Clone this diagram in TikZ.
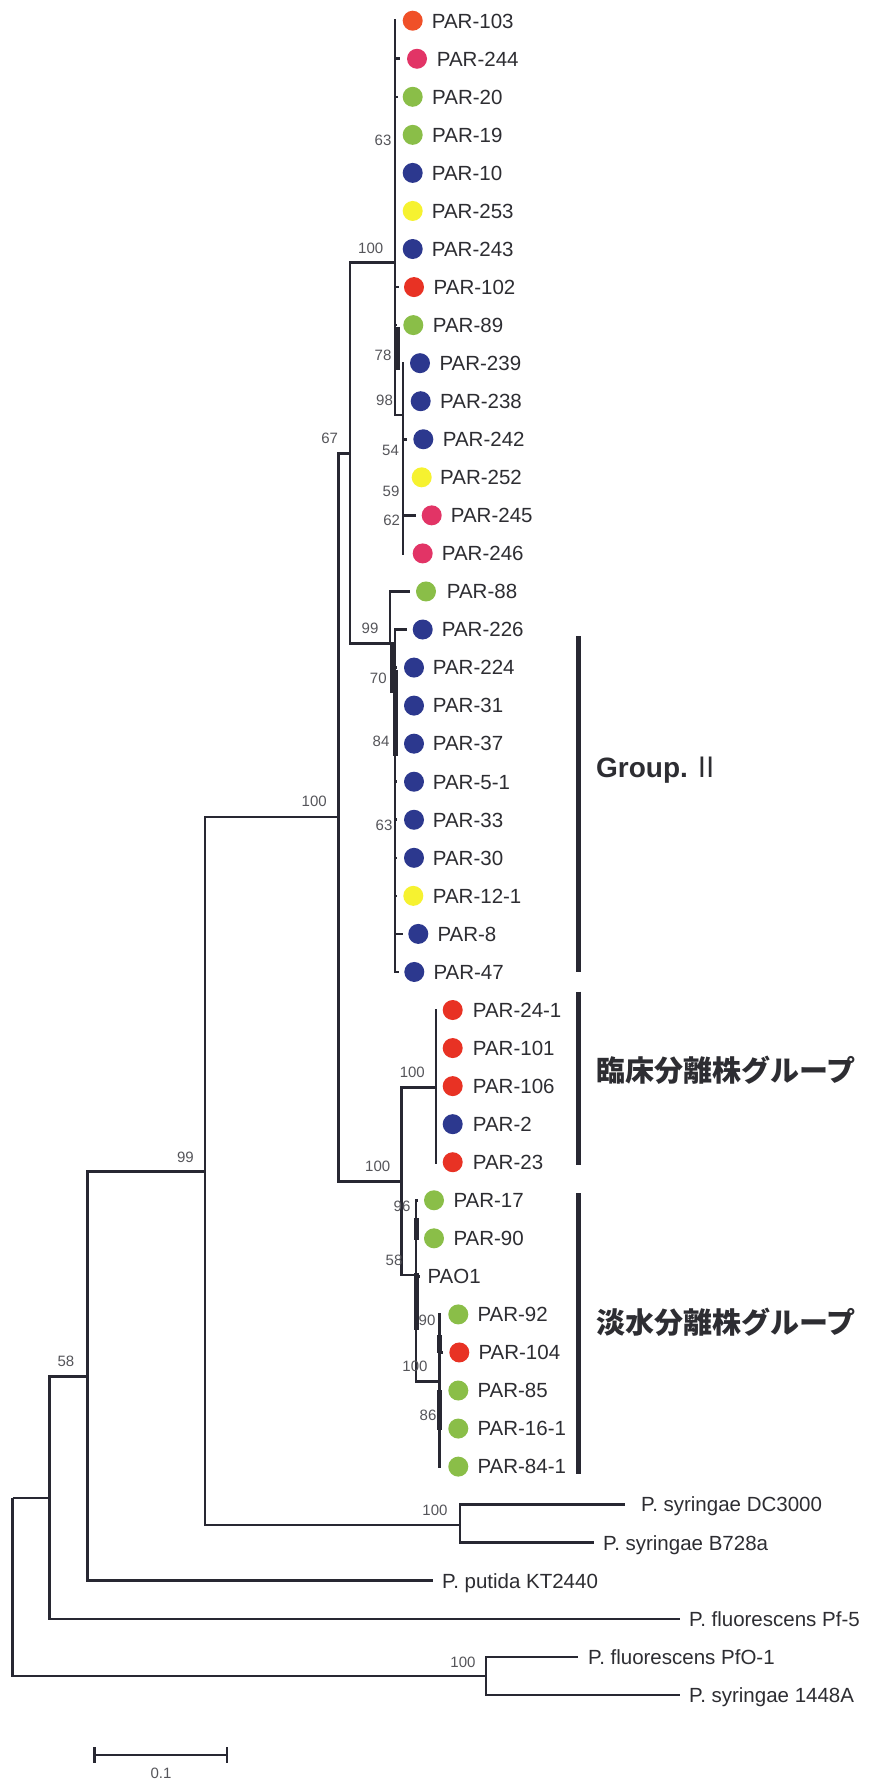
\documentclass[tikz,border=0pt]{standalone}
\usepackage{fontspec}
\setmainfont{Liberation Sans}
\newfontfamily\cjk{Noto Sans CJK JP}
\definecolor{linec}{RGB}{40,40,50}
\definecolor{txtc}{RGB}{45,45,50}
\definecolor{bsc}{RGB}{85,85,90}
\definecolor{cred}{RGB}{232,50,36}
\definecolor{corg}{RGB}{240,80,40}
\definecolor{cpink}{RGB}{226,52,102}
\definecolor{cgreen}{RGB}{138,190,72}
\definecolor{cblue}{RGB}{44,56,142}
\definecolor{cyel}{RGB}{246,242,48}
\newcommand\tleaf[8]{%
  \coordinate (t#1) at (#3,#4);
  \draw[br] (#2) |- (t#1);
  \node[dotn=#6] (d#1) at (#5,#4) {};
  \node[lbl] (l#1) at (#7,#4+7.3) {#8};
}
\newcommand\oleaf[6]{%
  \coordinate (t#1) at (#3,#4);
  \draw[br] (#2) |- (t#1);
  \node[lbl] (l#1) at (#5,#4+7.3) {#6};
}
\begin{document}
\begin{tikzpicture}[x=1pt,y=-1pt,
  br/.style={draw=linec,line width=2.6pt},
  thk/.style={draw=linec,line width=5pt},
  bkt/.style={draw=linec,line width=4.5pt},
  lbl/.style={anchor=base west,inner sep=0pt,text=txtc,font=\fontsize{20.5}{24}\selectfont},
  bs/.style={inner sep=0pt,text=bsc,font=\fontsize{15}{18}\selectfont},
  dotn/.style={circle,inner sep=0pt,minimum size=20pt,fill=#1},
  grp/.style={anchor=base west,inner sep=0pt,text=txtc}
]
\fill[white] (0,0) rectangle (872,1781);
\useasboundingbox (0,0) rectangle (872,1781);

% internal nodes
\coordinate (root) at (12.7,1498);
\coordinate (n58) at (49.3,1498);
\coordinate (npfo) at (486,1676);
\coordinate (n99) at (87.3,1376.7);
\coordinate (nA) at (205,1171.7);
\coordinate (nsyr) at (460,1525);
\coordinate (nB) at (338.5,817);
\coordinate (n67) at (350,453.3);
\coordinate (ntop) at (395,262.7);
\coordinate (n98) at (403,415);
\coordinate (n99b) at (390,643.3);
\coordinate (nG) at (395,643.3);
\coordinate (nC) at (401.7,1181.5);
\coordinate (nclin) at (436,1087.3);
\coordinate (n58b) at (416,1275);
\coordinate (nfc) at (439.3,1381.7);

\draw[br] (root) |- (n58);
\draw[br] (root) |- (npfo);
\draw[br] (n58) |- (n99);
\draw[br] (n99) |- (nA);
\draw[br] (nA) |- (nB);
\draw[br] (nA) |- (nsyr);
\draw[br] (nB) |- (n67);
\draw[br] (nB) |- (nC);
\draw[br] (n67) |- (ntop);
\draw[br] (n67) |- (n99b);
\draw[br] (ntop) |- (n98);
\draw[br] (n99b) |- (nG);
\draw[br] (nC) |- (nclin);
\draw[br] (nC) |- (n58b);
\draw[br] (n58b) |- (nfc);

% leaves
\tleaf{0}{ntop}{396}{20.7}{412.7}{corg}{431.7}{PAR-103}
\tleaf{1}{ntop}{400}{58.75}{417}{cpink}{436.7}{PAR-244}
\tleaf{2}{ntop}{398}{96.8}{412.7}{cgreen}{432}{PAR-20}
\tleaf{3}{ntop}{396}{134.85}{412.7}{cgreen}{432}{PAR-19}
\tleaf{4}{ntop}{396}{172.9}{412.7}{cblue}{431.7}{PAR-10}
\tleaf{5}{ntop}{396}{210.95}{412.7}{cyel}{431.7}{PAR-253}
\tleaf{6}{ntop}{396}{249.0}{412.7}{cblue}{431.7}{PAR-243}
\tleaf{7}{ntop}{399}{287.05}{414}{cred}{433.5}{PAR-102}
\tleaf{8}{ntop}{397}{325.1}{413.3}{cgreen}{432.7}{PAR-89}
\tleaf{9}{n98}{404}{363.15}{420}{cblue}{439.3}{PAR-239}
\tleaf{10}{n98}{404}{401.2}{420.7}{cblue}{440}{PAR-238}
\tleaf{11}{n98}{407}{439.25}{423.3}{cblue}{442.7}{PAR-242}
\tleaf{12}{n98}{404}{477.3}{421.7}{cyel}{440}{PAR-252}
\tleaf{13}{n98}{416}{515.35}{431.7}{cpink}{450.7}{PAR-245}
\tleaf{14}{n98}{404}{553.4}{422.7}{cpink}{441.7}{PAR-246}
\tleaf{15}{n99b}{410}{591.45}{426}{cgreen}{446.7}{PAR-88}
\tleaf{16}{nG}{406.7}{629.5}{422.7}{cblue}{441.7}{PAR-226}
\tleaf{17}{nG}{397}{667.55}{414}{cblue}{432.7}{PAR-224}
\tleaf{18}{nG}{397}{705.6}{414}{cblue}{432.7}{PAR-31}
\tleaf{19}{nG}{397}{743.65}{414}{cblue}{432.7}{PAR-37}
\tleaf{20}{nG}{397}{781.7}{414}{cblue}{432.7}{PAR-5-1}
\tleaf{21}{nG}{397}{819.75}{414}{cblue}{432.7}{PAR-33}
\tleaf{22}{nG}{397}{857.8}{414}{cblue}{432.7}{PAR-30}
\tleaf{23}{nG}{397}{895.85}{413.3}{cyel}{432.7}{PAR-12-1}
\tleaf{24}{nG}{402.7}{933.9}{418.3}{cblue}{437.3}{PAR-8}
\tleaf{25}{nG}{399}{971.95}{414.3}{cblue}{433.3}{PAR-47}
\tleaf{26}{nclin}{437}{1010.0}{452.7}{cred}{472.7}{PAR-24-1}
\tleaf{27}{nclin}{437}{1048.05}{452.7}{cred}{472.7}{PAR-101}
\tleaf{28}{nclin}{437}{1086.1}{452.7}{cred}{472.7}{PAR-106}
\tleaf{29}{nclin}{437}{1124.15}{452.7}{cblue}{472.7}{PAR-2}
\tleaf{30}{nclin}{437}{1162.2}{452.7}{cred}{472.7}{PAR-23}
\tleaf{31}{n58b}{418}{1200.25}{434}{cgreen}{453.3}{PAR-17}
\tleaf{32}{n58b}{418}{1238.3}{434}{cgreen}{453.3}{PAR-90}
\oleaf{33}{n58b}{420}{1276.35}{427.3}{PAO1}
\tleaf{34}{nfc}{440.5}{1314.4}{458.3}{cgreen}{477.3}{PAR-92}
\tleaf{35}{nfc}{443}{1352.45}{459.3}{cred}{478.3}{PAR-104}
\tleaf{36}{nfc}{440.5}{1390.5}{458.3}{cgreen}{477.3}{PAR-85}
\tleaf{37}{nfc}{440.5}{1428.55}{458.3}{cgreen}{477.3}{PAR-16-1}
\tleaf{38}{nfc}{440.5}{1466.6}{458.3}{cgreen}{477.3}{PAR-84-1}
\oleaf{39}{nsyr}{625}{1504.65}{641}{P. syringae DC3000}
\oleaf{40}{nsyr}{594}{1542.7}{603}{P. syringae B728a}
\oleaf{41}{n99}{433}{1580.75}{442}{P. putida KT2440}
\oleaf{42}{n58}{680}{1618.8}{689}{P. fluorescens Pf-5}
\oleaf{43}{npfo}{578}{1656.85}{588}{P. fluorescens PfO-1}
\oleaf{44}{npfo}{680}{1694.9}{689}{P. syringae 1448A}

% thick short segments (unresolved nodes)
\coordinate (k1a) at (397,327);   \coordinate (k1b) at (397,370);
\coordinate (k2a) at (392,643.3); \coordinate (k2b) at (392,693);
\coordinate (k3a) at (395,670);   \coordinate (k3b) at (395,756);
\coordinate (k4a) at (416,1218);  \coordinate (k4b) at (416,1240);
\coordinate (k5a) at (416,1273);  \coordinate (k5b) at (416,1330);
\coordinate (k6a) at (439.3,1335);\coordinate (k6b) at (439.3,1353);
\coordinate (k7a) at (439.3,1390);\coordinate (k7b) at (439.3,1430);
\draw[thk] (k1a) -- (k1b);
\draw[thk] (k2a) -- (k2b);
\draw[thk] (k3a) -- (k3b);
\draw[thk] (k4a) -- (k4b);
\draw[thk] (k5a) -- (k5b);
\draw[thk] (k6a) -- (k6b);
\draw[thk] (k7a) -- (k7b);

% bootstrap values
\node[bs] (b1) at (383,140) {63};
\node[bs] (b2) at (370.7,248) {100};
\node[bs] (b3) at (329.7,438.3) {67};
\node[bs] (b4) at (383,355) {78};
\node[bs] (b5) at (384.5,400) {98};
\node[bs] (b6) at (390.5,450) {54};
\node[bs] (b7) at (391,491.7) {59};
\node[bs] (b8) at (391.7,520) {62};
\node[bs] (b9) at (370,628) {99};
\node[bs] (b10) at (378.3,678.3) {70};
\node[bs] (b11) at (381,741.7) {84};
\node[bs] (b12) at (314.2,801.7) {100};
\node[bs] (b13) at (384,825) {63};
\node[bs] (b14) at (412.3,1072.7) {100};
\node[bs] (b15) at (377.7,1166) {100};
\node[bs] (b16) at (402,1206.7) {96};
\node[bs] (b17) at (394,1260) {58};
\node[bs] (b18) at (427,1320) {90};
\node[bs] (b19) at (415,1366.7) {100};
\node[bs] (b20) at (428,1415) {86};
\node[bs] (b21) at (185.5,1157) {99};
\node[bs] (b22) at (66,1361.7) {58};
\node[bs] (b23) at (435,1510) {100};
\node[bs] (b24) at (463,1662) {100};

% group brackets
\coordinate (g1a) at (578.5,636);    \coordinate (g1b) at (578.5,972);
\coordinate (g2a) at (578.5,991.7);  \coordinate (g2b) at (578.5,1165);
\coordinate (g3a) at (578.5,1193.3); \coordinate (g3b) at (578.5,1474);
\draw[bkt] (g1a) -- (g1b);
\draw[bkt] (g2a) -- (g2b);
\draw[bkt] (g3a) -- (g3b);
\node[grp,font=\bfseries\fontsize{28}{32}\selectfont] (gl1) at (596,777) {Group.\,{\cjk\mdseries Ⅱ}};
\node[grp,font=\cjk\bfseries\fontsize{29}{33}\selectfont] (gl2) at (596,1081) {臨床分離株グループ};
\node[grp,font=\cjk\bfseries\fontsize{29}{33}\selectfont] (gl3) at (596,1333) {淡水分離株グループ};

% scale bar
\coordinate (s1) at (94.4,1755);  \coordinate (s2) at (226.7,1755);
\coordinate (s1u) at (94.4,1747); \coordinate (s1d) at (94.4,1763);
\coordinate (s2u) at (226.7,1747);\coordinate (s2d) at (226.7,1763);
\draw[draw=linec,line width=2.2pt] (s1) -- (s2);
\draw[draw=linec,line width=2.2pt] (s1u) -- (s1d);
\draw[draw=linec,line width=2.2pt] (s2u) -- (s2d);
\node[bs] (sl) at (161,1773) {0.1};
\end{tikzpicture}
\end{document}
